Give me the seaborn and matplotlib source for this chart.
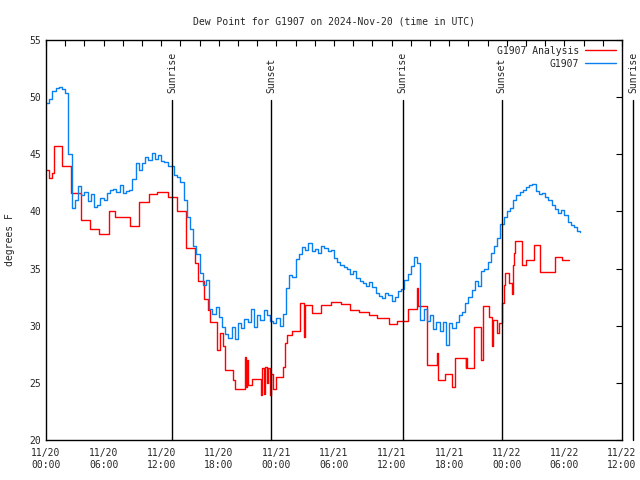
import numpy as np
import pandas as pd
import matplotlib
matplotlib.use("Agg")
import matplotlib.pyplot as plt
import matplotlib.dates as mdates
import seaborn as sns

# ---------------- data ----------------
title = "Dew Point for G1907 on 2024-Nov-20 (time in UTC)"
ylabel = "degrees F"
start = pd.Timestamp("2024-11-20 00:00")

# G1907 observations, every 20 minutes starting 11/20 00:00 (degrees F)
obs_values = [
    49.5, 49.8, 50.5,  50.8, 50.9, 50.7,  50.4, 45.0, 40.3,  41.0, 42.2, 41.4,
    41.7, 40.9, 41.5,  40.4, 40.6, 41.2,  41.0, 41.6, 41.9,  42.0, 41.7, 42.3,
    41.6, 41.8, 41.9,  42.8, 44.2, 43.6,  44.2, 44.8, 44.5,  45.1, 44.6, 44.9,
    44.4, 44.3, 44.0,  44.0, 43.2, 43.0,  42.6, 41.0, 39.5,  38.5, 37.0, 36.3,
    34.6, 33.6, 34.0,  31.5, 31.0, 31.6,  30.8, 29.9, 29.3,  28.9, 29.9, 28.8,
    30.2, 29.8, 30.6,  30.3, 31.5, 29.9,  30.9, 30.5, 31.4,  30.9, 30.4, 30.2,
    30.7, 30.0, 31.0,  33.3, 34.4, 34.3,  35.8, 36.3, 36.9,  36.6, 37.2, 36.5,
    36.7, 36.4, 37.0,  36.8, 36.5, 36.6,  35.9, 35.6, 35.3,  35.1, 35.0, 34.5,
    34.8, 34.2, 33.9,  33.7, 33.5, 33.8,  33.4, 32.9, 32.6,  32.4, 32.9, 32.7,
    32.2, 32.5, 33.0,  33.2, 34.0, 34.5,  35.2, 36.0, 35.5,  30.5, 31.5, 30.4,
    30.9, 29.7, 30.3,  29.5, 30.3, 28.3,  30.2, 29.8, 30.3,  30.9, 31.2, 32.0,
    32.5, 33.1, 33.9,  33.5, 34.8, 35.0,  35.6, 36.4, 37.0,  37.7, 38.9, 39.5,
    40.0, 40.3, 41.0,  41.4, 41.7, 41.9,  42.1, 42.3, 42.4,  41.8, 41.5, 41.6,
    41.3, 41.0, 40.6,  40.2, 39.9, 40.1,  39.7, 39.1, 38.8,  38.6, 38.3, 38.2,
]

# G1907 Analysis: step changes (hours after 11/20 00:00, degrees F)
ana_hours = [
    0.0, 0.3, 0.6, 0.8, 1.65, 2.6, 3.6, 4.6, 5.5, 6.6, 7.2, 8.75, 9.7, 10.7,
    11.6, 12.7, 13.6, 14.6, 15.55, 15.8, 16.5, 16.9, 17.1, 17.8, 18.1, 18.4,
    18.65, 19.5, 19.7, 20.7, 20.8, 20.9, 21.0, 21.1, 21.5, 22.4, 22.5, 22.7,
    22.8, 23.0, 23.1, 23.3, 23.4, 23.6, 24.0, 24.7, 24.9, 25.1, 25.6, 26.5,
    26.9, 27.0, 27.7, 28.6, 29.7, 30.7, 31.7, 32.6, 33.6, 34.5, 35.7, 36.6,
    37.7, 38.6, 38.8, 39.7, 40.7, 40.85, 41.6, 42.3, 42.6, 43.7, 43.8, 43.9,
    44.6, 45.3, 45.5, 46.1, 46.5, 46.6, 47.0, 47.2, 47.5, 47.75, 47.85, 48.2,
    48.55, 48.6, 48.8, 48.9, 49.6, 50.0, 50.8, 51.5, 53.0, 53.7, 54.5,
]
ana_values = [
    43.6, 42.9, 43.4, 45.7, 44.0, 41.6, 39.25, 38.5, 38.0, 40.0, 39.5, 38.7, 40.85, 41.5,
    41.7, 41.3, 40.0, 36.8, 35.5, 33.9, 32.3, 31.4, 30.3, 27.9, 29.4, 28.2,
    26.1, 25.25, 24.5, 27.3, 24.6, 27.0, 24.8, 24.8, 25.3, 23.9, 26.3, 24.0,
    26.4, 25.0, 26.3, 23.9, 25.8, 24.5, 25.55, 26.4, 28.5, 29.2, 29.5, 32.0,
    29.0, 31.8, 31.1, 31.8, 32.05, 31.9, 31.4, 31.2, 30.9, 30.7, 30.15, 30.4,
    31.45, 33.3, 31.75, 26.6, 27.6, 25.25, 25.8, 24.6, 27.2, 26.3, 27.2, 26.3,
    29.9, 27.0, 31.7, 30.8, 28.2, 30.5, 29.4, 30.2, 32.0, 33.6, 34.6, 33.7,
    32.8, 35.3, 36.4, 37.45, 35.3, 35.75, 37.1, 34.7, 36.05, 35.75, 35.75,
]

events = ["Sunrise", "Sunset", "Sunrise", "Sunset", "Sunrise"]
event_hours = [13.15, 23.45, 37.15, 47.45, 61.15]

series_names = ["G1907 Analysis", "G1907"]
series_colors = ["#ff0000", "#0a80f0"]

# ---------------- build frames ----------------
obs_times = start + pd.to_timedelta(np.arange(len(obs_values)) * 20, unit="min")
df_obs = pd.DataFrame({"time": obs_times, "value": obs_values, "series": series_names[1]})
ana_times = start + pd.to_timedelta(ana_hours, unit="h")
df_ana = pd.DataFrame({"time": ana_times, "value": ana_values, "series": series_names[0]})

# ---------------- plot ----------------
sns.set_style("white")
plt.rcParams["font.family"] = ["DejaVu Sans Mono", "DejaVu Sans"]
plt.rcParams["font.size"] = 7

fig = plt.figure(figsize=(6.4, 4.8), dpi=100)
ax = fig.add_axes([46 / 640, 40 / 480, 576 / 640, 400 / 480])

sns.lineplot(data=df_ana, x="time", y="value", ax=ax, color=series_colors[0],
             drawstyle="steps-post", lw=1.0, label=series_names[0], estimator=None)
sns.lineplot(data=df_obs, x="time", y="value", ax=ax, color=series_colors[1],
             drawstyle="steps-post", lw=1.0, label=series_names[1], estimator=None)

xmin = start
xmax = start + pd.Timedelta(hours=60)
ax.set_xlim(xmin, xmax)
ax.set_ylim(20, 55)

for name, h in zip(events, event_hours):
    t = start + pd.Timedelta(hours=h)
    ax.plot([t, t], [20, 49.75], color="black", lw=1.0, clip_on=False)
    ax.text(t, 50.4, name, rotation=90, ha="center", va="bottom",
            fontsize=7, clip_on=False)

ax.xaxis.set_major_locator(mdates.HourLocator(byhour=[0, 6, 12, 18]))
ax.xaxis.set_minor_locator(mdates.HourLocator(byhour=range(0, 24, 2)))
ax.xaxis.set_major_formatter(mdates.DateFormatter("%m/%d\n%H:%M"))
ax.set_yticks([20, 25, 30, 35, 40, 45, 50, 55])

ax.tick_params(axis="both", which="both", direction="in", top=True, right=True,
               length=4, width=0.8, labelsize=7, color="black")
ax.tick_params(axis="x", which="major", pad=6)
for s in ax.spines.values():
    s.set_color("black")
    s.set_linewidth(1.0)

ax.set_xlabel("")
ax.set_ylabel(ylabel, fontsize=7, labelpad=10)
ax.set_title(title, fontsize=7, pad=11)

leg = ax.legend(loc="upper right", frameon=False, markerfirst=False,
                handlelength=3.2, fontsize=7, borderaxespad=0.2,
                labelspacing=0.3, handletextpad=0.6)

fig.savefig("out.png", dpi=100)
